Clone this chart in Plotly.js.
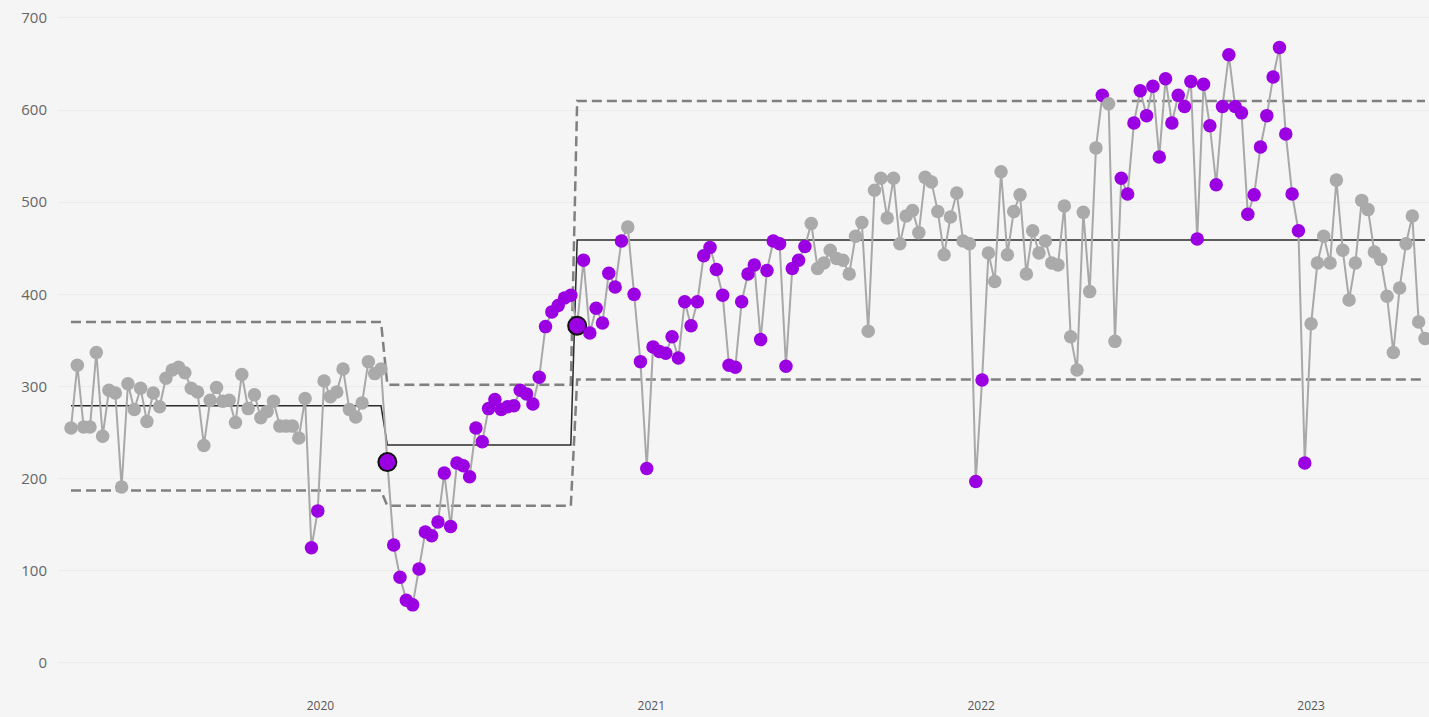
<!DOCTYPE html>
<html>
<head>
<meta charset="utf-8">
<script src="https://cdn.plot.ly/plotly-3.0.1.min.js"></script>
<style>
  html, body { margin: 0; padding: 0; background: #f5f5f5; }
  #chart { width: 1429px; height: 717px; }
</style>
</head>
<body>
<div id="chart"></div>
<script>
const firstWeek = '2019-03-31';
const values = [
  255,323,256,256,337,246,296,293,191,303,
  275,298,262,293,278,309,318,321,315,298,
  294,236,285,299,284,285,261,313,276,291,
  266,273,284,257,257,257,244,287,125,165,
  306,289,294,319,275,267,282,327,314,319,
  218,128,93,68,63,102,142,138,153,206,
  148,217,214,202,255,240,276,286,275,278,
  279,296,292,281,310,365,381,388,396,399,
  366,437,358,385,369,423,408,458,473,400,
  327,211,343,338,336,354,331,392,366,392,
  442,451,427,399,323,321,392,422,432,351,
  426,458,455,322,428,437,452,477,428,434,
  448,439,437,422,463,478,360,513,526,483,
  526,455,485,491,467,527,522,490,443,484,
  510,458,455,197,307,445,414,533,443,490,
  508,422,469,445,458,434,432,496,354,318,
  489,403,559,616,607,349,526,509,586,621,
  594,626,549,634,586,616,604,631,460,628,
  583,519,604,660,604,597,487,508,560,594,
  636,668,574,509,469,217,368,434,463,434,
  524,448,394,434,502,492,446,438,398,337,
  407,455,485,370,352
];
// Signal flags (1 = highlighted purple point)
const signals = [
  0,0,0,0,0,0,0,0,0,0,
  0,0,0,0,0,0,0,0,0,0,
  0,0,0,0,0,0,0,0,0,0,
  0,0,0,0,0,0,0,0,1,1,
  0,0,0,0,0,0,0,0,0,0,
  1,1,1,1,1,1,1,1,1,1,
  1,1,1,1,1,1,1,1,1,1,
  1,1,1,1,1,1,1,1,1,1,
  1,1,1,1,1,1,1,1,0,1,
  1,1,1,1,1,1,1,1,1,1,
  1,1,1,1,1,1,1,1,1,1,
  1,1,1,1,1,1,1,0,0,0,
  0,0,0,0,0,0,0,0,0,0,
  0,0,0,0,0,0,0,0,0,0,
  0,0,0,1,1,0,0,0,0,0,
  0,0,0,0,0,0,0,0,0,0,
  0,0,0,1,0,0,1,1,1,1,
  1,1,1,1,1,1,1,1,1,1,
  1,1,1,1,1,1,1,1,1,1,
  1,1,1,1,1,1,0,0,0,0,
  0,0,0,0,0,0,0,0,0,0,
  0,0,0,0,0
];
// Process stages: first point index of each stage, centre line and limits
const stageStart = [0, 50, 80];
const stageMean  = [279, 236.5, 459];
const stageUCL   = [370, 302, 610];
const stageLCL   = [187, 170.5, 307.5];
const yTicks = [0, 100, 200, 300, 400, 500, 600, 700];

const purple = '#9b00e3';
const greyPt = '#aaaaaa';

const dates = [];
const d0 = new Date(firstWeek + 'T00:00:00Z');
for (let i = 0; i < values.length; i++) {
  const d = new Date(d0.getTime() + i * 7 * 86400000);
  dates.push(d.toISOString().slice(0, 10));
}
function stageOf(i) {
  let s = 0;
  for (let k = 0; k < stageStart.length; k++) if (i >= stageStart[k]) s = k;
  return s;
}
const meanLine = [], uclLine = [], lclLine = [];
for (let i = 0; i < values.length; i++) {
  const s = stageOf(i);
  meanLine.push(stageMean[s]); uclLine.push(stageUCL[s]); lclLine.push(stageLCL[s]);
}
const mColor = [], mSize = [], mLineW = [];
for (let i = 0; i < values.length; i++) {
  const isStart = stageStart.indexOf(i) > 0;
  mColor.push(signals[i] ? purple : greyPt);
  mSize.push(isStart ? 18 : 13.5);
  mLineW.push(isStart ? 2 : 0);
}

const dashStyle = {color: '#808080', width: 2.5, dash: '10px,5px'};
const traces = [
  {x: dates, y: uclLine, mode: 'lines', line: dashStyle, hoverinfo: 'skip'},
  {x: dates, y: lclLine, mode: 'lines', line: dashStyle, hoverinfo: 'skip'},
  {x: dates, y: meanLine, mode: 'lines', line: {color: '#2b2b2b', width: 1.5}, hoverinfo: 'skip'},
  {x: dates, y: values, mode: 'lines+markers',
   line: {color: '#a8a8a8', width: 2},
   marker: {color: mColor, size: mSize, opacity: 1, line: {color: '#111111', width: mLineW}}}
];

const pxPerWeek = 6.327;
const plotLeft = 58;
const firstX = 71;
const dayMs = 86400000;
const rangeStart = new Date(d0.getTime() - ((firstX - plotLeft) / pxPerWeek) * 7 * dayMs);
const rangeEnd = new Date(d0.getTime() + ((1429 - firstX) / pxPerWeek) * 7 * dayMs);

const layout = {
  width: 1429, height: 717,
  paper_bgcolor: '#f5f5f5', plot_bgcolor: '#f5f5f5',
  margin: {l: plotLeft, r: 0, t: 0, b: 20},
  showlegend: false,
  font: {family: '"Segoe UI", "Open Sans", sans-serif', color: '#666666'},
  xaxis: {
    type: 'date', range: [rangeStart.toISOString(), rangeEnd.toISOString()],
    showgrid: false, zeroline: false, showline: false,
    tick0: '2020-01-01', dtick: 'M12', tickformat: '%Y',
    tickfont: {size: 12, color: '#555555'}, ticks: ''
  },
  yaxis: {
    range: [-37, 719.5], tickvals: yTicks,
    showgrid: true, gridcolor: '#ebebeb', gridwidth: 1,
    zeroline: false, showline: false, ticks: '',
    tickfont: {size: 15, color: '#666666'}, ticklabelstandoff: 10
  },
  hovermode: false
};

Plotly.newPlot('chart', traces, layout, {staticPlot: true, displayModeBar: false});
</script>
</body>
</html>
